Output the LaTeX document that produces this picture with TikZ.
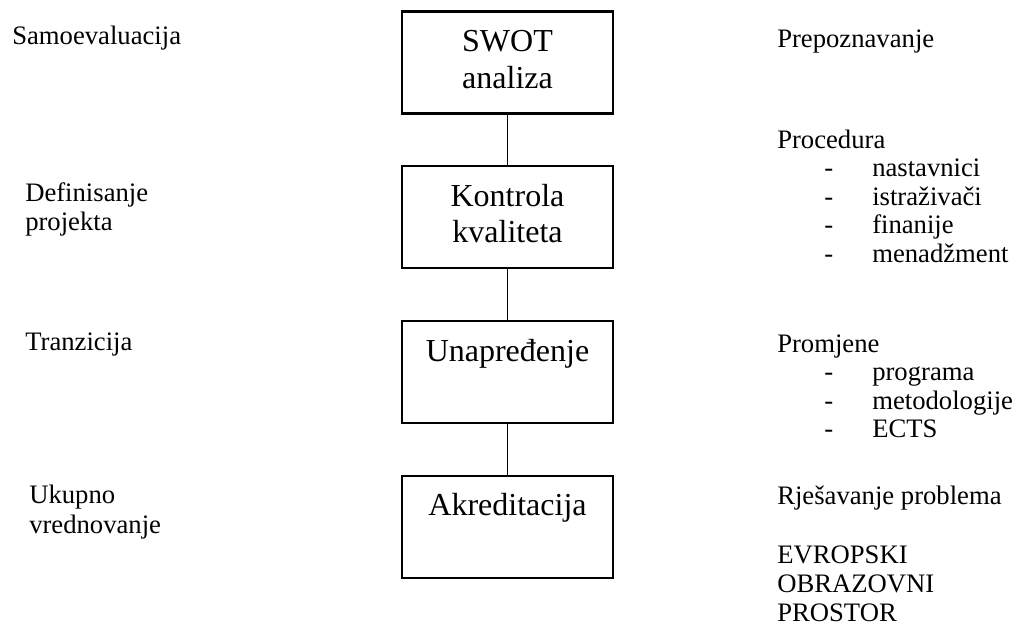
\documentclass[tikz,border=0pt]{standalone}
\usepackage{fontspec}
\setmainfont{Liberation Serif}
\usetikzlibrary{positioning}

\newcommand\okvirtekst[1]{\parbox[c][76.5pt][t]{150pt}{\centering\fontsize{24pt}{27.4pt}\selectfont\rule{0pt}{30pt}#1}}
\newcommand\redovi[1]{\begin{tabular}[t]{@{}l@{}}#1\end{tabular}}
\newcommand\stavka[1]{\hspace*{35.25pt}\makebox[36pt][l]{-}#1}

\begin{document}
\begin{tikzpicture}[x=0.75pt, y=-0.75pt, node distance=38pt,
    okvir/.style={draw, line width=1.6pt, inner sep=0pt, minimum width=158.25pt, minimum height=76.5pt},
    veza/.style={line width=1.4pt},
    opis/.style={anchor=base west, inner sep=0pt, font=\fontsize{20pt}{21.4pt}\selectfont}]
      \useasboundingbox (0,0) rectangle (1015,628);

      % Okviri
      \node[okvir] (swot) at (507.5,62.5) {\okvirtekst{SWOT\\analiza}};
      \node[okvir, below=of swot] (kontrola) {\okvirtekst{Kontrola\\kvaliteta}};
      \node[okvir, below=of kontrola] (unapredjenje) {\okvirtekst{Unapređenje}};
      \node[okvir, below=of unapredjenje] (akreditacija) {\okvirtekst{Akreditacija}};

      % Veze
      \draw[veza] (swot) -- (kontrola);
      \draw[veza] (kontrola) -- (unapredjenje);
      \draw[veza] (unapredjenje) -- (akreditacija);

      % Lijeva strana
      \node[opis] (samoevaluacija) at (12,45) {Samoevaluacija};
      \node[opis, font=\fontsize{20pt}{21.75pt}\selectfont] (definisanje) at (25,201) {\redovi{Definisanje\\projekta}};
      \node[opis] (tranzicija) at (25,350) {Tranzicija};
      \node[opis, font=\fontsize{20pt}{22.5pt}\selectfont] (ukupno) at (29,503) {\redovi{Ukupno\\vrednovanje}};

      % Desna strana
      \node[opis] (prepoznavanje) at (777,47) {Prepoznavanje};
      \node[opis] (procedura) at (777,148) {\redovi{Procedura\\
          \stavka{nastavnici}\\
          \stavka{istraživači}\\
          \stavka{finanije}\\
          \stavka{menadžment}}};
      \node[opis] (promjene) at (777,352) {\redovi{Promjene\\
          \stavka{programa}\\
          \stavka{metodologije}\\
          \stavka{ECTS}}};
      \node[opis] (rjesavanje) at (777,504) {Rješavanje problema};
      \node[opis, font=\fontsize{20pt}{22.1pt}\selectfont] (prostor) at (777,563) {\redovi{EVROPSKI\\OBRAZOVNI\\PROSTOR}};
    \end{tikzpicture}
\end{document}
